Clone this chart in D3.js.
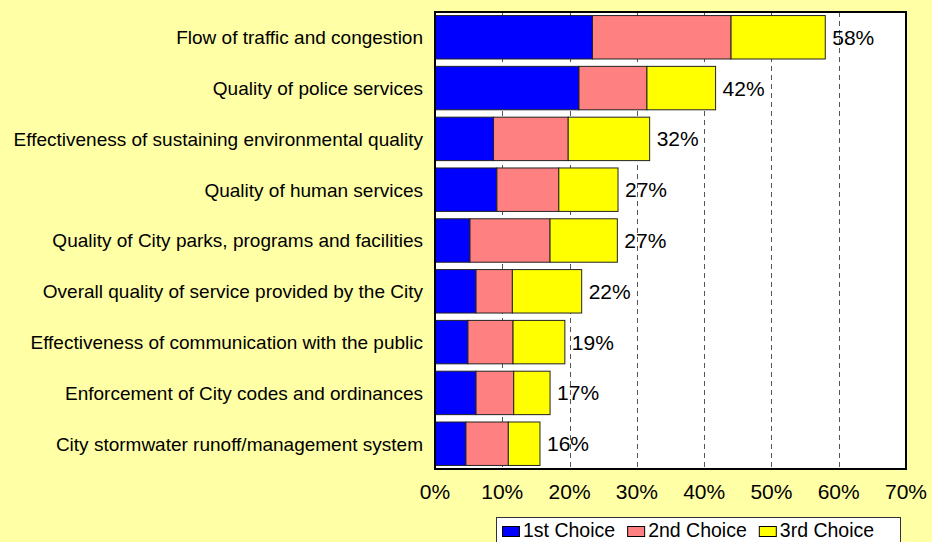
<!DOCTYPE html>
<html>
<head>
<meta charset="utf-8">
<script src="https://cdn.jsdelivr.net/npm/d3@7"></script>
<style>
  body { margin: 0; background: #FFFFA6; overflow: hidden; }
  text { font-family: "Liberation Sans", Arial, sans-serif; fill: #000; }
</style>
</head>
<body>
<div class="svg-container"></div>
<script>
const categories = [
  'Flow of traffic and congestion',
  'Quality of police services',
  'Effectiveness of sustaining environmental quality',
  'Quality of human services',
  'Quality of City parks, programs and facilities',
  'Overall quality of service provided by the City',
  'Effectiveness of communication with the public',
  'Enforcement of City codes and ordinances',
  'City stormwater runoff/management system'
];
const seriesNames = ['1st Choice', '2nd Choice', '3rd Choice'];
const firstChoice = [23.4, 21.4, 8.7, 9.2, 5.2, 6.1, 4.9, 6.1, 4.6];
const secondChoice = [20.6, 10.1, 11.1, 9.2, 11.9, 5.4, 6.7, 5.6, 6.3];
const thirdChoice = [14.0, 10.2, 12.1, 8.8, 10.0, 10.3, 7.7, 5.4, 4.7];
const totalLabels = ['58%', '42%', '32%', '27%', '27%', '22%', '19%', '17%', '16%'];
const xTicks = [0, 10, 20, 30, 40, 50, 60, 70];
const colors = ['#0000FF', '#FF8080', '#FFFF00'];

const width = 932;
const height = 542;
const margin = { top: 12, bottom: 73, left: 435, right: 26 };

const svg = d3.select('.svg-container').append('svg')
  .attr('width', width)
  .attr('height', height)
  .style('display', 'block');

const xScale = d3.scaleLinear()
  .domain([0, 70])
  .range([margin.left, width - margin.right]);

const yScale = d3.scaleBand()
  .domain(categories)
  .range([margin.top, height - margin.bottom])
  .paddingInner(0.145)
  .paddingOuter(0.07);

// plot background
svg.append('rect')
  .attr('x', margin.left)
  .attr('y', margin.top)
  .attr('width', xScale(70) - margin.left)
  .attr('height', height - margin.bottom - margin.top)
  .attr('fill', '#fff');

// dashed gridlines
svg.append('g')
  .selectAll('line')
  .data(xTicks.slice(1, -1))
  .enter()
  .append('line')
  .attr('x1', d => Math.round(xScale(d)) + 0.5)
  .attr('x2', d => Math.round(xScale(d)) + 0.5)
  .attr('y1', margin.top)
  .attr('y2', height - margin.bottom)
  .attr('stroke', '#555')
  .attr('stroke-width', 1)
  .attr('stroke-dasharray', '5,4');

// stacked bars
const rows = categories.map((c, i) => ({
  category: c,
  values: [firstChoice[i], secondChoice[i], thirdChoice[i]],
  label: totalLabels[i]
}));
const stack = d3.stack().keys([0, 1, 2]).value((d, k) => d.values[k]);
const stacked = stack(rows);

stacked.forEach((layer, k) => {
  svg.append('g')
    .selectAll('rect')
    .data(layer)
    .enter()
    .append('rect')
    .attr('x', d => xScale(d[0]))
    .attr('y', d => yScale(d.data.category))
    .attr('width', d => xScale(d[1]) - xScale(d[0]))
    .attr('height', yScale.bandwidth())
    .attr('fill', colors[k])
    .attr('stroke', '#222')
    .attr('stroke-width', 1);
});

// total labels
svg.append('g')
  .selectAll('text')
  .data(stacked[2])
  .enter()
  .append('text')
  .attr('x', d => xScale(d[1]) + 7)
  .attr('y', d => yScale(d.data.category) + yScale.bandwidth() / 2)
  .attr('dy', '0.36em')
  .style('font-size', '21px')
  .text(d => d.data.label);

// plot border
svg.append('rect')
  .attr('x', margin.left)
  .attr('y', margin.top)
  .attr('width', xScale(70) - margin.left)
  .attr('height', height - margin.bottom - margin.top)
  .attr('fill', 'none')
  .attr('stroke', '#000')
  .attr('stroke-width', 2);

// category labels
svg.append('g')
  .selectAll('text')
  .data(categories)
  .enter()
  .append('text')
  .attr('x', margin.left - 12)
  .attr('y', d => yScale(d) + yScale.bandwidth() / 2)
  .attr('dy', '0.36em')
  .style('text-anchor', 'end')
  .style('font-size', '19px')
  .text(d => d);

// x tick labels
svg.append('g')
  .selectAll('text')
  .data(xTicks)
  .enter()
  .append('text')
  .attr('x', d => xScale(d))
  .attr('y', height - margin.bottom + 30)
  .style('text-anchor', 'middle')
  .style('font-size', '21px')
  .text(d => d + '%');

// legend (runs off the bottom edge, as in the original)
const legend = svg.append('g').attr('transform', 'translate(496, 517)');
legend.append('rect')
  .attr('x', 0.5)
  .attr('y', 0.5)
  .attr('width', 404)
  .attr('height', 34)
  .attr('fill', '#fff')
  .attr('stroke', '#333')
  .attr('stroke-width', 1);

let cursor = 6;
seriesNames.forEach((name, i) => {
  const item = legend.append('g')
    .attr('class', 'legend')
    .attr('transform', `translate(${cursor}, 0)`);
  item.append('rect')
    .attr('x', 0.5)
    .attr('y', 9.5)
    .attr('width', 17)
    .attr('height', 10)
    .attr('fill', colors[i])
    .attr('stroke', '#000')
    .attr('stroke-width', 1);
  const label = item.append('text')
    .attr('x', 21)
    .attr('y', 20)
    .style('font-size', '19.5px')
    .text(name);
  cursor += 21 + label.node().getComputedTextLength() + 12;
});
</script>
</body>
</html>
